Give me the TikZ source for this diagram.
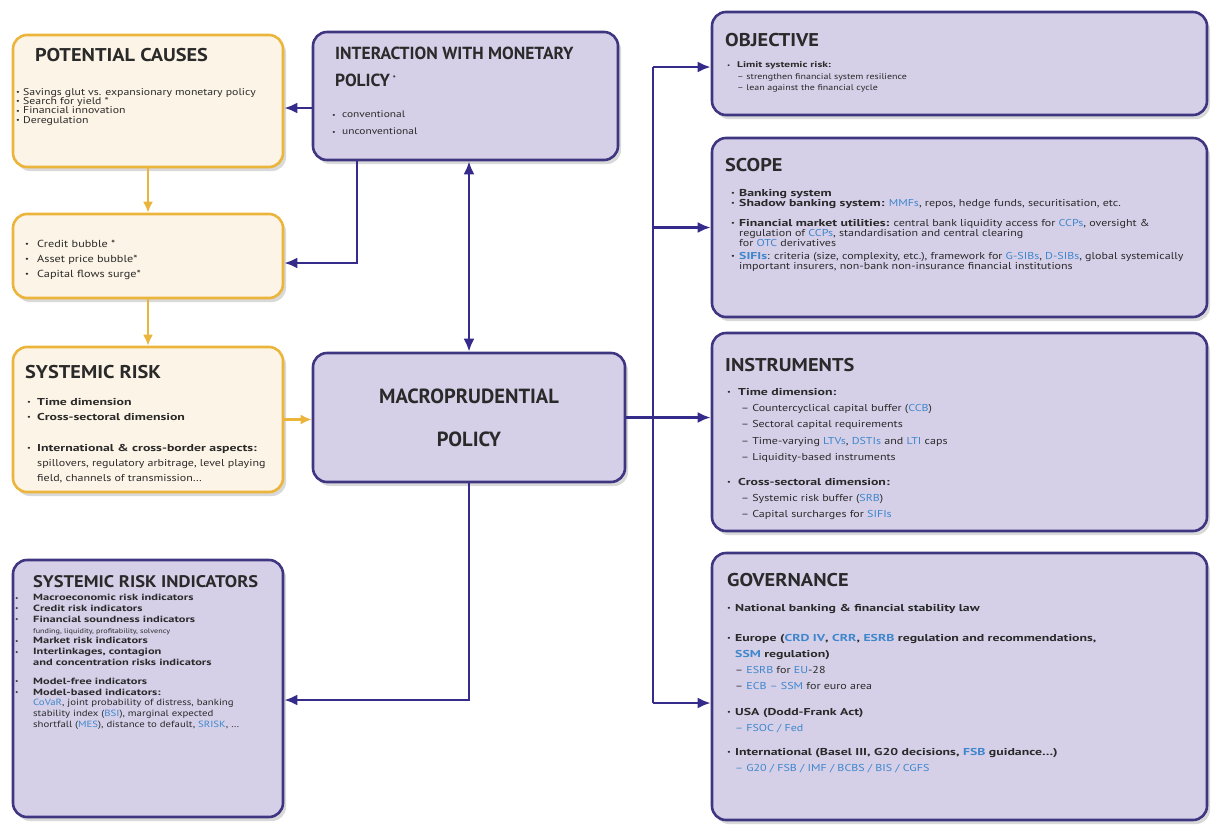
\documentclass[tikz,border=0pt]{standalone}
\usepackage{fontspec}
\setmainfont{PT Sans}
\newfontfamily\bodyfont[FakeStretch=1.2, BoldFeatures={FakeStretch=1.38}]{PT Sans}
\newfontfamily\headfont[FakeStretch=1.1]{PT Sans}
\newfontfamily\titlefont{PT Sans}
\usetikzlibrary{shapes,arrows,arrows.meta,shadows}
\definecolor{lilac}{HTML}{D5D0E8}
\definecolor{frame}{HTML}{3E3680}
\definecolor{navy}{HTML}{352B8A}
\definecolor{amber}{HTML}{EBB43A}
\definecolor{cream}{HTML}{FCF4E6}
\definecolor{acro}{HTML}{3F86CC}
\definecolor{ink}{HTML}{2A2A2A}
\newcommand{\fsz}[2]{\fontsize{#1}{#2}\selectfont}
\newcommand{\bull}[1][10pt]{\makebox[#1][l]{\raisebox{0.12ex}{\scalebox{0.7}{\textbullet}}}}
\newcommand{\acr}[1]{\textcolor{acro}{#1}}
\tikzstyle{pbox} = [rectangle, draw=frame, fill=lilac, line width=2.6pt,
    rounded corners=14pt, drop shadow={shadow xshift=3pt, shadow yshift=-4pt, opacity=0.3}]
\tikzstyle{obox} = [pbox, draw=amber, fill=cream]
\tikzstyle{head} = [anchor=west, inner sep=0pt, text=ink, font=\headfont\bfseries\fsz{18.5}{20}]
\tikzstyle{txt} = [anchor=north west, inner sep=0pt, align=left, text=ink]
\tikzstyle{line} = [draw, navy, line width=2.8pt]
\tikzstyle{arrow} = [line, -{Latex[length=13pt, width=11pt]}]
\tikzstyle{orange} = [draw, amber, line width=2.6pt, -{Latex[length=11pt, width=10pt]}]

\begin{document}
\begin{tikzpicture}[x=1pt, y=-1pt]
        \useasboundingbox (0,0) rectangle (1211,828);
        % Boxes
        \path (148,101) node (causes) [obox, minimum width=270pt, minimum height=132pt] {};
        \path (148,256) node (bubble) [obox, minimum width=270pt, minimum height=84pt] {};
        \path (148,419.5) node (sysrisk) [obox, minimum width=270pt, minimum height=145pt] {};
        \path (148,688.5) node (indicators) [pbox, minimum width=270pt, minimum height=257pt] {};
        \path (465.5,96) node (interaction) [pbox, minimum width=305pt, minimum height=128pt] {};
        \path (469,417.5) node (macro) [pbox, minimum width=312pt, minimum height=129pt,
            align=center, text=ink, font=\titlefont\bfseries\fsz{20.5}{43}] {MACROPRUDENTIAL\\POLICY};
        \path (959.5,63.5) node (objective) [pbox, minimum width=495pt, minimum height=103pt] {};
        \path (959.5,227.5) node (scope) [pbox, minimum width=495pt, minimum height=179pt] {};
        \path (959.5,432) node (instruments) [pbox, minimum width=495pt, minimum height=198pt] {};
        \path (959.5,686.5) node (governance) [pbox, minimum width=495pt, minimum height=267pt] {};

        % Potential causes
        \path (35,55) node (causes-h) [head] {POTENTIAL CAUSES};
        \path (16,88) node (causes-t) [txt, font=\bodyfont\fsz{9.8}{9.4}] {\bull[7pt]Savings glut vs. expansionary monetary policy\\
            \bull[7pt]Search for yield *\\ \bull[7pt]Financial innovation\\ \bull[7pt]Deregulation};
        \path (25,240) node (bubble-t) [txt, font=\bodyfont\fsz{10.2}{15}] {\bull[12pt]Credit bubble *\\
            \bull[12pt]Asset price bubble*\\ \bull[12pt]Capital flows surge*};

        % Systemic risk
        \path (25,372) node (sysrisk-h) [head] {SYSTEMIC RISK};
        \path (27,398) node (sysrisk-t) [txt, font=\bodyfont\fsz{10}{15}] {\bull\textbf{Time dimension}\\
            \bull\textbf{Cross-sectoral dimension}\\[16pt]
            \bull\textbf{International \& cross-border aspects:}\\
            \hspace*{10pt}spillovers, regulatory arbitrage, level playing\\
            \hspace*{10pt}field, channels of transmission\dots};

        % Indicators
        \path (33,582) node (indicators-h) [head, font=\headfont\bfseries\fsz{16.8}{18}] {SYSTEMIC RISK INDICATORS};
        \path (15,594) node (indicators-t) [txt, font=\bodyfont\fsz{9}{10.8}] {\bull[18pt]\textbf{Macroeconomic risk indicators}\\
            \bull[18pt]\textbf{Credit risk indicators}\\
            \bull[18pt]\textbf{Financial soundness indicators}\\
            \hspace*{18pt}{\fsz{6.8}{10.8}funding, liquidity, profitability, solvency}\\
            \bull[18pt]\textbf{Market risk indicators}\\
            \bull[18pt]\textbf{Interlinkages, contagion}\\
            \hspace*{18pt}\textbf{and concentration risks indicators}\\[8pt]
            \bull[18pt]\textbf{Model-free indicators}\\
            \bull[18pt]\textbf{Model-based indicators:}\\
            \hspace*{18pt}\acr{CoVaR}, joint probability of distress, banking\\
            \hspace*{18pt}stability index (\acr{BSI}), marginal expected\\
            \hspace*{18pt}shortfall (\acr{MES}), distance to default, \acr{SRISK}, \dots};

        % Interaction with monetary policy
        \path (335,47) node (interaction-h) [txt, font=\titlefont\bfseries\fsz{17.5}{27}] {INTERACTION WITH MONETARY\\
            POLICY\,\raisebox{5pt}{\fsz{8}{8}*}};
        \path (332,111) node (interaction-t) [txt, font=\bodyfont\fsz{9.5}{17}] {\bull conventional\\ \bull unconventional};

        % Objective
        \path (725,40) node (objective-h) [head] {OBJECTIVE};
        \path (727,61.5) node (objective-t) [txt, font=\bodyfont\fsz{8.3}{11.5}] {\bull\textbf{Limit systemic risk:}\\
            \hspace*{10pt}– strengthen financial system resilience\\
            \hspace*{10pt}– lean against the financial cycle};

        % Scope
        \path (725,165) node (scope-h) [head] {SCOPE};
        \path (731,189) node (scope-t) [txt, font=\bodyfont\fsz{10}{10}] {\bull[8pt]\textbf{Banking system}\\
            \bull[8pt]\textbf{Shadow banking system:} \acr{MMFs}, repos, hedge funds, securitisation, etc.\\[10pt]
            \bull[8pt]\textbf{Financial market utilities:} central bank liquidity access for \acr{CCPs}, oversight \&\\
            \hspace*{8pt}regulation of \acr{CCPs}, standardisation and central clearing\\
            \hspace*{8pt}for \acr{OTC} derivatives\\[3pt]
            \bull[8pt]\textbf{\acr{SIFIs}}: criteria (size, complexity, etc.), framework for \acr{G-SIBs}, \acr{D-SIBs}, global systemically\\
            \hspace*{8pt}important insurers, non-bank non-insurance financial institutions};

        % Instruments
        \path (725,365) node (instruments-h) [head] {INSTRUMENTS};
        \path (727,388) node (instruments-t) [txt, font=\bodyfont\fsz{10}{16.3}] {\bull[11pt]\textbf{Time dimension:}\\
            \hspace*{14pt}– Countercyclical capital buffer (\acr{CCB})\\
            \hspace*{14pt}– Sectoral capital requirements\\
            \hspace*{14pt}– Time-varying \acr{LTVs}, \acr{DSTIs} and \acr{LTI} caps\\
            \hspace*{14pt}– Liquidity-based instruments\\[8.5pt]
            \bull[11pt]\textbf{Cross-sectoral dimension:}\\
            \hspace*{14pt}– Systemic risk buffer (\acr{SRB})\\
            \hspace*{14pt}– Capital surcharges for \acr{SIFIs}};

        % Governance
        \path (727,580) node (governance-h) [head] {GOVERNANCE};
        \path (727,604) node (governance-t) [txt, font=\bodyfont\fsz{10}{16}] {\bull[8pt]\textbf{National banking \& financial stability law}\\[14pt]
            \bull[8pt]\textbf{Europe (\acr{CRD IV}, \acr{CRR}, \acr{ESRB} regulation and recommendations,}\\
            \hspace*{8pt}\textbf{\acr{SSM} regulation)}\\
            \hspace*{8pt}– \acr{ESRB} for \acr{EU}-28\\
            \hspace*{8pt}– \acr{ECB – SSM} for euro area\\[10pt]
            \bull[8pt]\textbf{USA (Dodd-Frank Act)}\\
            \hspace*{8pt}\acr{– FSOC / Fed}\\[8pt]
            \bull[8pt]\textbf{International (Basel III, G20 decisions, \acr{FSB} guidance\dots)}\\
            \hspace*{8pt}\acr{– G20 / FSB / IMF / BCBS / BIS / CGFS}};

        % Connectors
        \coordinate (lvl-causes) at (0,108);
        \coordinate (lvl-bubble) at (0,263);
        \coordinate (lvl-ind) at (0,700);
        \coordinate (lvl-obj) at (0,67);
        \coordinate (lvl-gov) at (0,703);
        \coordinate (drop) at (357,0);
        \coordinate (bus) at (653,0);
        \path [orange] (causes) -- (bubble);
        \path [orange] (bubble) -- (sysrisk);
        \path [orange] (sysrisk.east) -- (sysrisk.east -| macro.west);
        \path [arrow] (interaction.west |- lvl-causes) -- (causes.east |- lvl-causes);
        \path [arrow] (interaction.south -| drop) |- (bubble.east |- lvl-bubble);
        \path [line, {Latex[length=13pt, width=11pt]}-{Latex[length=13pt, width=11pt]}] (macro.north |- interaction.south) -- (macro.north);
        \path [arrow] (macro.south) |- (indicators.east |- lvl-ind);
        \path [arrow] (macro.east) -- (macro.east -| instruments.west);
        \path [line] (bus |- lvl-obj) -- (bus |- lvl-gov);
        \path [arrow] (bus |- lvl-obj) -- (objective.west |- lvl-obj);
        \path [arrow] (bus |- scope.west) -- (scope.west);
        \path [arrow] (bus |- lvl-gov) -- (governance.west |- lvl-gov);
    \end{tikzpicture}
\end{document}
